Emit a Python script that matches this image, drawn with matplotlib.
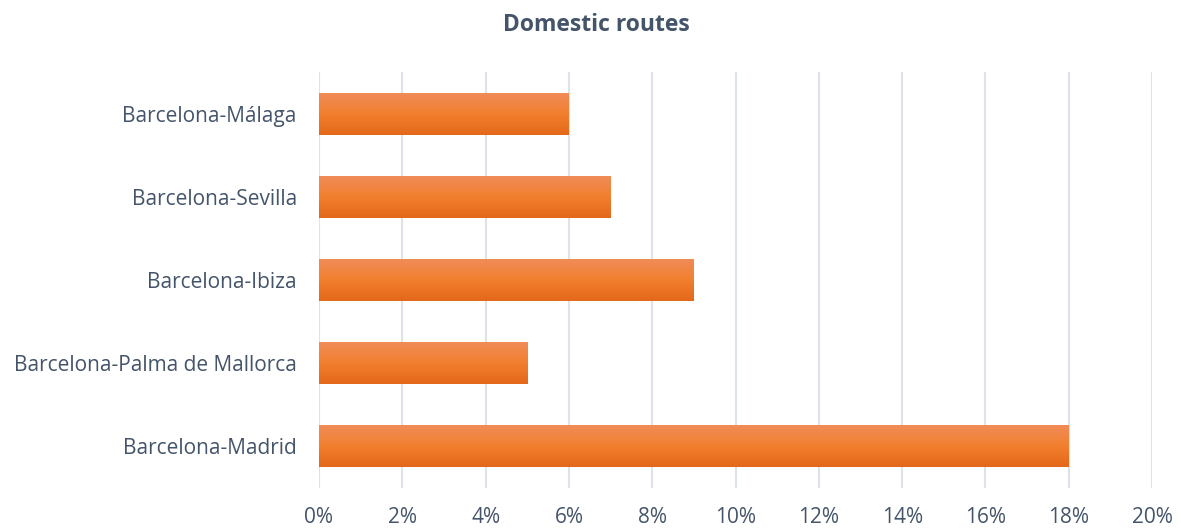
import numpy as np
import matplotlib.pyplot as plt
from matplotlib.colors import LinearSegmentedColormap
from matplotlib.ticker import FuncFormatter

plt.rcParams['font.family'] = ['Open Sans', 'DejaVu Sans']

routes = ['Barcelona-Madrid', 'Barcelona-Palma de Mallorca', 'Barcelona-Ibiza',
          'Barcelona-Sevilla', 'Barcelona-Málaga']
shares = [18, 5, 9, 7, 6]  # percent

text_color = '#44546A'
grid_color = '#DEE3EA'

fig = plt.figure(figsize=(11.81, 5.28), dpi=100)
ax = fig.add_axes([0.2701, 0.0767, 0.7054, 0.786])

bars = ax.barh(routes, shares, height=0.5, color='#EE7A2C', zorder=2)

# vertical gradient on each bar (light top, darker bottom)
grad = LinearSegmentedColormap.from_list('g', ['#E4681A', '#F27F2E', '#F08C58'])
for bar in bars:
    x0, y0 = bar.get_x(), bar.get_y()
    w, h = bar.get_width(), bar.get_height()
    img = ax.imshow(np.linspace(0, 1, 64).reshape(-1, 1), cmap=grad, aspect='auto',
                    extent=[x0, x0 + w, y0, y0 + h], origin='lower', zorder=3)
    img.set_clip_path(bar)

ax.set_xlim(0, 20)
ax.set_ylim(-0.5, len(routes) - 0.5)
ax.set_xticks(range(0, 21, 2))
ax.xaxis.set_major_formatter(FuncFormatter(lambda v, p: f'{v:.0f}%'))
ax.grid(axis='x', color=grid_color, linewidth=1.5, zorder=0)
ax.set_axisbelow(True)
for s in ax.spines.values():
    s.set_visible(False)
ax.tick_params(length=0, labelsize=15, colors=text_color)
ax.tick_params(axis='x', pad=14)
ax.tick_params(axis='y', pad=16)

fig.suptitle('Domestic routes', x=0.505, y=1 - 25 / 528, va='center',
             fontsize=16.5, fontweight='bold', color=text_color)

fig.savefig('out.png', dpi=100)
